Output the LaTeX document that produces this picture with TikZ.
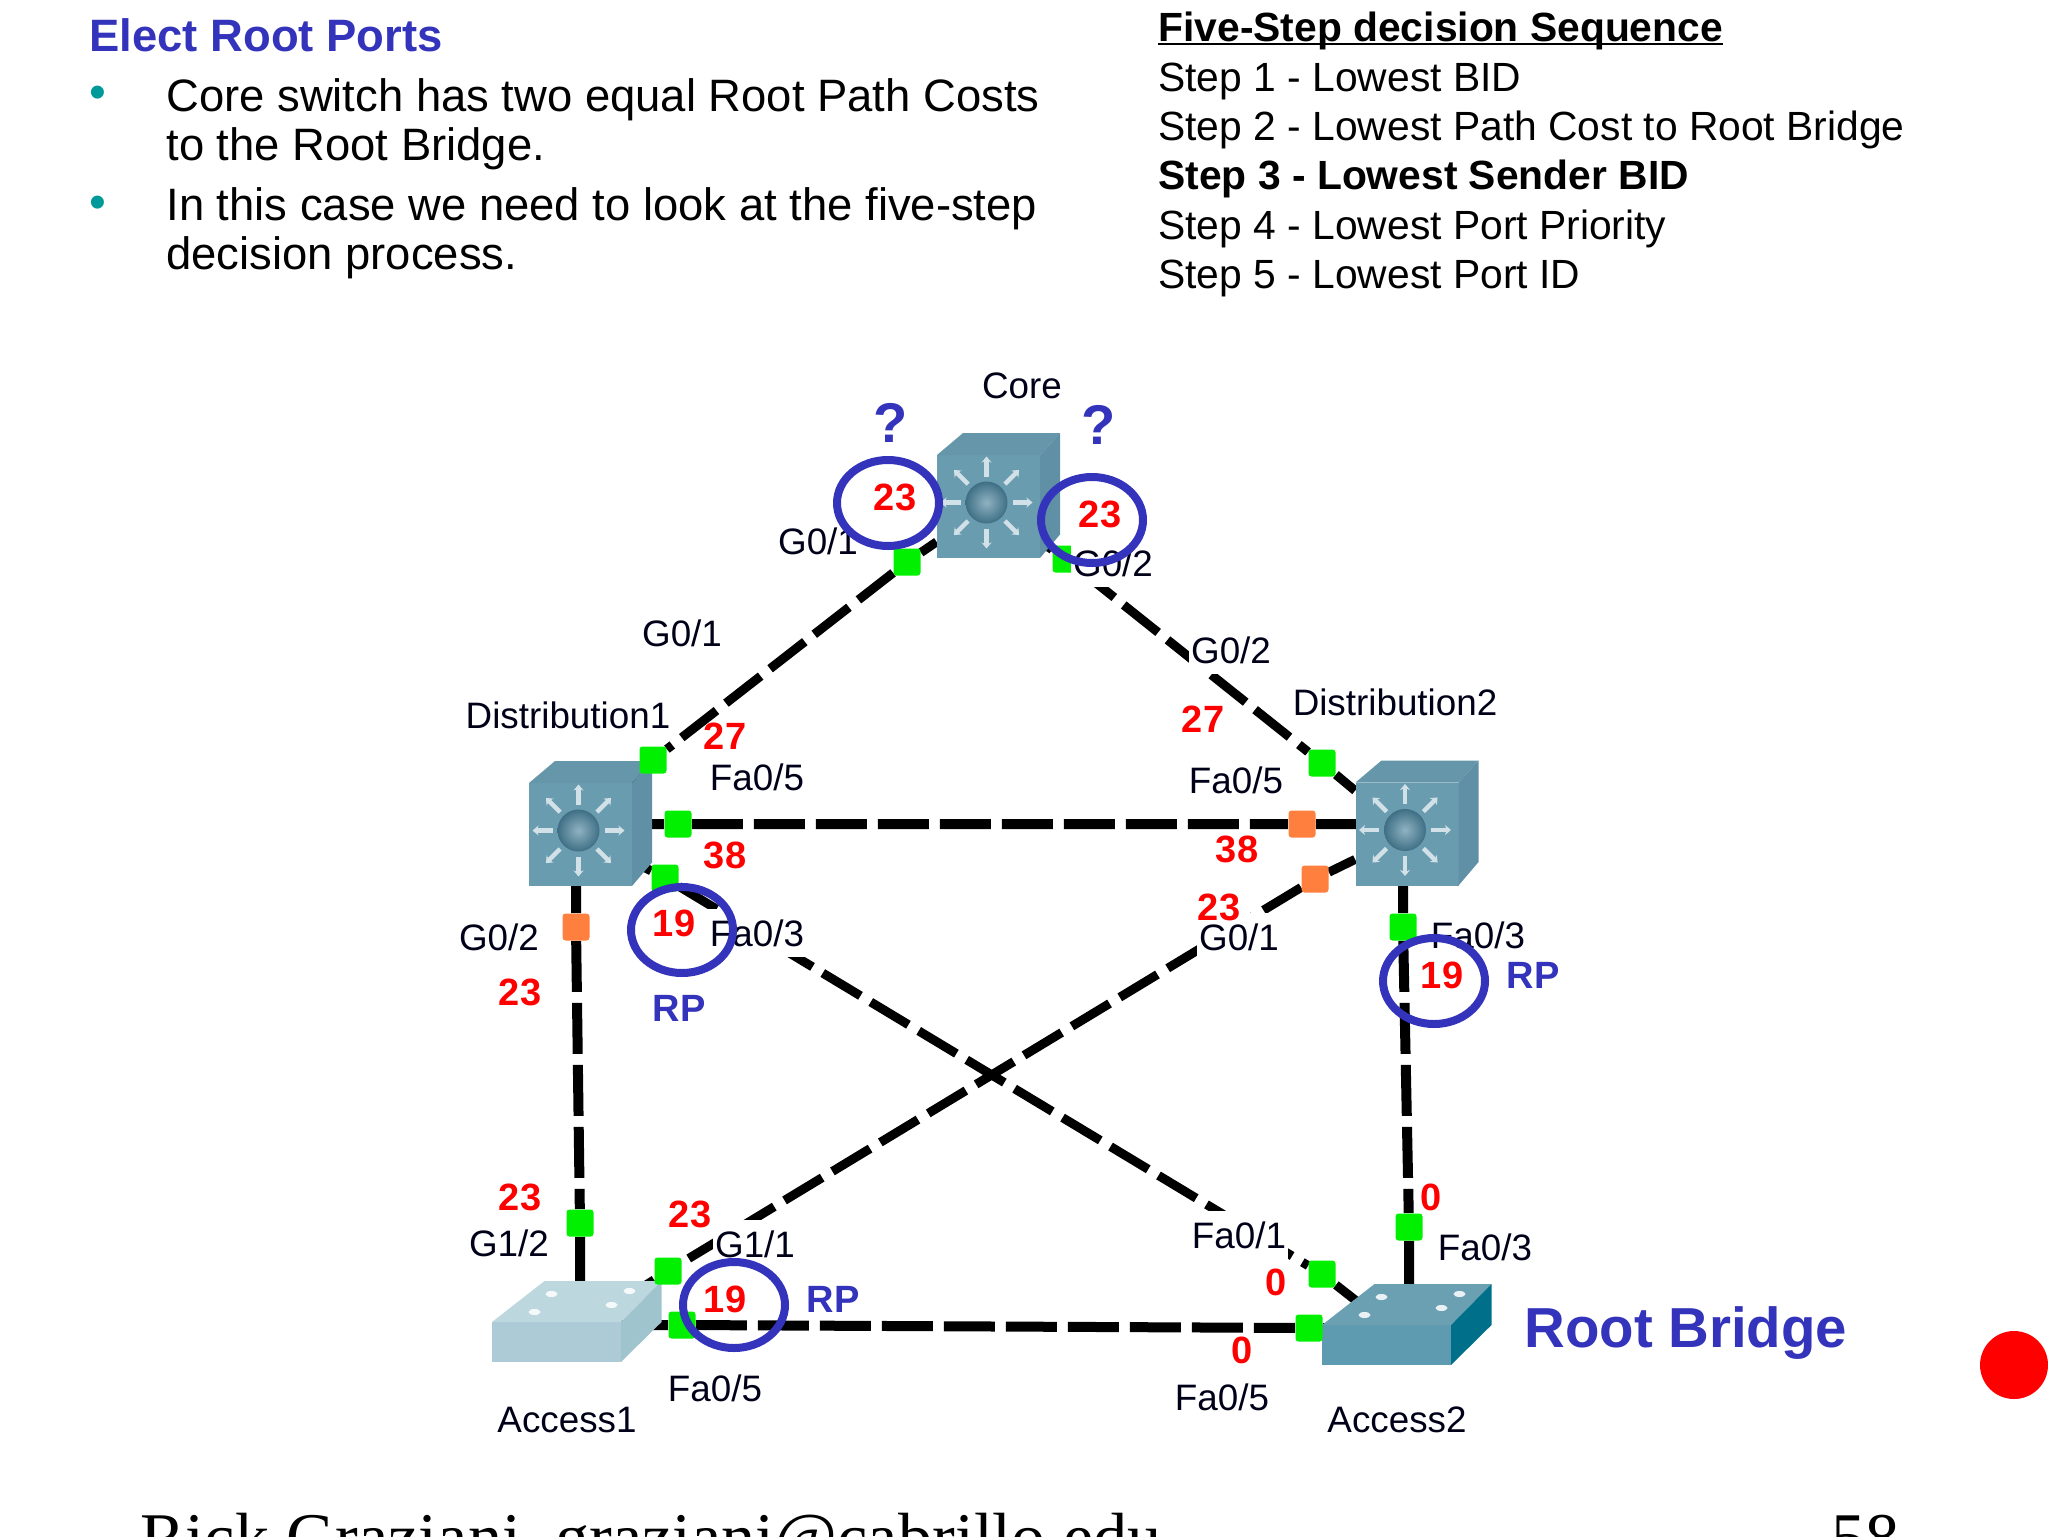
\documentclass[tikz,border=0pt]{standalone}
\usepackage{fontspec}
\setmainfont{Liberation Sans}
\newfontfamily\footfont{Liberation Serif}
\usetikzlibrary{shapes.geometric,backgrounds,arrows.meta}

\definecolor{slideblue}{HTML}{3333BB}
\definecolor{bullteal}{HTML}{009999}
\definecolor{portgreen}{HTML}{00F000}
\definecolor{portorange}{HTML}{FF7F3F}
\definecolor{mlsfront}{HTML}{6A9CB0}
\definecolor{mlstop}{HTML}{6696AA}
\definecolor{mlsside}{HTML}{5F90A5}
\definecolor{mlsball}{HTML}{3F6F85}
\definecolor{mlsglow}{HTML}{8FB3C2}
\definecolor{accfaded}{HTML}{ADCBD6}
\definecolor{accfadedtop}{HTML}{BDD7DF}
\definecolor{accfadedside}{HTML}{9FC4CE}
\definecolor{accroot}{HTML}{5F9BB0}
\definecolor{accroottop}{HTML}{6BA0B3}
\definecolor{accrootside}{HTML}{00708A}

\newcommand{\thickunder}[1]{\setbox0\hbox{#1}\rlap{\rule[-1.6pt]{\wd0}{1.2pt}}\box0}

\tikzset{
  link/.style = {line width=5pt, dash pattern=on 25.5pt off 5.5pt},
  diag/.style = {line width=4.5pt, dash pattern=on 22pt off 6pt},
  port/.style = {fill=portgreen, inner sep=0pt, minimum size=13.5pt, rounded corners=1.5pt},
  blocked/.style = {port, fill=portorange},
  tag/.style = {font=\fontsize{18.4}{20}\selectfont, text=black!90!blue, fill=white, inner sep=1pt, minimum height=24pt},
  cost/.style = {font=\fontsize{19}{20}\selectfont\bfseries, text=red, inner sep=0pt},
  rp/.style = {font=\fontsize{19}{20}\selectfont\bfseries, text=slideblue, inner sep=0pt},
  ring/.style = {ellipse, draw=slideblue, line width=4pt, inner sep=0pt, minimum width=51pt, minimum height=43pt},
  mlsface/.style = {fill=mlsfront, inner sep=0pt, minimum size=51.5pt},
  accface/.style = {inner sep=0pt, minimum width=64.5pt, minimum height=20pt},
  pics/mlsbody/.style = {code={
    \fill[mlstop] (-51.5,-51.5) -- (-25.5,-73.5) -- (71.5,-73.5) -- (51.5,-51.5) -- cycle;
    \fill[mlsside] (51.5,-51.5) -- (71.5,-73.5) -- (71.5,28) -- (51.5,51.5) -- cycle;
    \foreach \a in {0,45,...,315}
      \draw[line width=2.2pt, draw=white!70!mlsfront, {Stealth[length=3pt,width=5pt]}-] (-2,-4) ++(\a:46) -- ++(\a:-20);
    \shade[inner color=mlsglow, outer color=mlsball] (-2,-4) circle (21);
  }},
  pics/accbody/.style 2 args = {code={
    \fill[#1] (-64.5,-20) -- (-12,-61) -- (105,-61) -- (64.5,-20) -- cycle;
    \fill[#2] (64.5,-20) -- (105,-61) -- (105,-20) -- (64.5,20) -- cycle;
    \foreach \p in {(-5,-48),(73,-51),(-22,-30),(55,-37)}
      \fill[white!85!#1] \p ellipse (6 and 3);
  }}
}

\begin{document}
\begin{tikzpicture}[x=0.5pt, y=-0.5pt]
  \useasboundingbox (0,0) rectangle (2048,1536);

  % slide text
  \node[anchor=base west, inner sep=0pt, text=slideblue, font=\fontsize{22.7}{25}\selectfont\bfseries] (title) at (89,51.5) {Elect Root Ports};
  \node[text=bullteal, inner sep=0pt, font=\fontsize{24}{25}\selectfont] (bull1) at (98,97) {•};
  \node[text=bullteal, inner sep=0pt, font=\fontsize{24}{25}\selectfont] (bull2) at (98,207) {•};
  \node[anchor=north west, inner sep=0pt, align=left, font=\fontsize{22.7}{24.5}\selectfont] (para1) at (166,78.5) {Core switch has two equal Root Path Costs\\to the Root Bridge.};
  \node[anchor=north west, inner sep=0pt, align=left, font=\fontsize{22.7}{24.5}\selectfont] (para2) at (166,187.5) {In this case we need to look at the five-step\\decision process.};
  \node[anchor=north west, inner sep=0pt, align=left, font=\fontsize{20.4}{24.65}\selectfont] (steps) at (1158,12) {\thickunder{\textbf{Five-Step decision Sequence}}\\Step 1 - Lowest BID\\Step 2 - Lowest Path Cost to Root Bridge\\\textbf{Step 3 - Lowest Sender BID}\\Step 4 - Lowest Port Priority\\Step 5 - Lowest Port ID};

  % switches
  \node[mlsface] (core) at (988.5,506.5) {};
  \node[mlsface] (d1) at (580.5,834.5) {};
  \node[mlsface] (d2) at (1407,834) {};
  \node[accface, fill=accfaded] (a1) at (556.5,1342) {};
  \node[accface, fill=accroot] (a2) at (1386.5,1345) {};
  \pic at (core) {mlsbody};
  \pic at (d1) {mlsbody};
  \pic at (d2) {mlsbody};
  \pic at (a1) {accbody={accfadedtop}{accfadedside}};
  \pic at (a2) {accbody={accroottop}{accrootside}};

  % ports
  \node[port] (cG1) at (907,562) {};
  \node[port] (cG2) at (1066,559) {};
  \node[port] (d1G1) at (653,760) {};
  \node[port] (d1F5) at (678,824) {};
  \node[port] (d1F3) at (665,878) {};
  \node[blocked] (d1G2) at (576,927) {};
  \node[port] (d2G2) at (1322,763) {};
  \node[blocked] (d2F5) at (1302,824) {};
  \node[blocked] (d2G1) at (1315,879) {};
  \node[port] (d2F3) at (1403,927) {};
  \node[port] (a1G2) at (580,1223) {};
  \node[port] (a1G1) at (668,1271) {};
  \node[port] (a1F5) at (682,1325) {};
  \node[port] (a2F3) at (1409,1227) {};
  \node[port] (a2F1) at (1322,1274) {};
  \node[port] (a2F5) at (1309,1328) {};

  % links go behind everything
  \begin{scope}[on background layer]
    \draw[diag] (cG1)--(core)
                (cG1)--(d1G1)
                (d1G1)--(d1)
                (cG2)--(core)
                (cG2)--(d2G2)
                (d2G2)--(d2)
                (d1F3)--(d1)
                (d1F3)--(a2F1)
                (a2F1)--(a2.north)
                (d2G1)--(d2)
                (d2G1)--(a1G1)
                (a1G1)--(a1);
    \draw[link] (d1F5)--(d1F5 -| d1)
                (d1F5)--(d2F5)
                (d2F5)--(d2F5 -| d2)
                (d1G2)--(d1G2 |- d1)
                (d1G2)--(a1G2)
                (a1G2)--(a1G2 |- a1)
                (d2F3)--(d2F3 |- d2)
                (d2F3)--(a2F3)
                (a2F3)--(a2F3 |- a2)
                (a1F5)--(a1F5 -| a1)
                (a1F5)--(a2F5)
                (a2F5)--(a2F5 -| a2);
  \end{scope}

  % device and port names
  \node[tag] (coreName) at (1022,386) {Core};
  \node[tag] (d1Name) at (568,715) {Distribution1};
  \node[tag] (d2Name) at (1395,702) {Distribution2};
  \node[tag] (a1Name) at (567,1420) {Access1};
  \node[tag] (a2Name) at (1397,1420) {Access2};
  \node[tag] (tCG1) at (818,541) {G0/1};
  \node[tag] (tCG2) at (1113,563) {G0/2};
  \node[tag] (tD1G1) at (682,633) {G0/1};
  \node[tag] (tD2G2) at (1231,650) {G0/2};
  \node[tag] (tD1F5) at (757,777) {Fa0/5};
  \node[tag] (tD1F3) at (757,933) {Fa0/3};
  \node[tag] (tD1G2) at (499,937) {G0/2};
  \node[tag] (tD2F5) at (1236,780) {Fa0/5};
  \node[tag] (tD2G1) at (1239,937) {G0/1};
  \node[tag] (tD2F3) at (1478,935) {Fa0/3};
  \node[tag] (tA1G2) at (509,1243) {G1/2};
  \node[tag] (tA1G1) at (755,1244) {G1/1};
  \node[tag] (tA1F5) at (715,1388) {Fa0/5};
  \node[tag] (tA2F1) at (1239,1235) {Fa0/1};
  \node[tag] (tA2F3) at (1485,1247) {Fa0/3};
  \node[tag] (tA2F5) at (1222,1397) {Fa0/5};

  % path costs
  \node[cost] (costC1) at (895,497) {23};
  \node[cost] (costC2) at (1100,514) {23};
  \node[cost] (costD1a) at (725,736) {27};
  \node[cost] (costD2a) at (1203,719) {27};
  \node[cost] (costD1b) at (725,855) {38};
  \node[cost] (costD2b) at (1237,849) {38};
  \node[cost] (costD1c) at (674,923) {19};
  \node[cost] (costD2c) at (1442,975) {19};
  \node[cost] (costD1d) at (520,992) {23};
  \node[cost] (costD2d) at (1219,907) {23};
  \node[cost] (costA1a) at (520,1197) {23};
  \node[cost] (costA1b) at (690,1214) {23};
  \node[cost] (costA1c) at (725,1299) {19};
  \node[cost] (costA2a) at (1431,1197) {0};
  \node[cost] (costA2b) at (1276,1282) {0};
  \node[cost] (costA2c) at (1242,1350) {0};

  % root ports and question marks
  \node[rp] (rpD1) at (679,1008) {RP};
  \node[rp] (rpD2) at (1533,975) {RP};
  \node[rp] (rpA1) at (833,1299) {RP};
  \node[rp, font=\fontsize{28}{30}\selectfont\bfseries] (askC1) at (891,423) {?};
  \node[rp, font=\fontsize{28}{30}\selectfont\bfseries] (askC2) at (1099,425) {?};
  \node[rp, anchor=west, font=\fontsize{28.2}{30}\selectfont\bfseries] (rootName) at (1524,1333) {Root Bridge};

  \node[ring] (ringC1) at (888,503) {};
  \node[ring] (ringC2) at (1092,520) {};
  \node[ring] (ringD1) at (682,930) {};
  \node[ring] (ringD2) at (1434,981) {};
  \node[ring] (ringA1) at (734,1305) {};

  \node[circle, fill=red, inner sep=0pt, minimum size=34pt] (pointer) at (2014,1365) {};

  % footer runs off the slide
  \begin{scope}
    \clip (0,0) rectangle (2048,1536);
    \node[anchor=base west, inner sep=0pt, font=\footfont\fontsize{34.1}{36}\selectfont] (footer) at (140,1560) {Rick Graziani\ \ graziani@cabrillo.edu};
    \node[anchor=base west, inner sep=0pt, font=\footfont\fontsize{34.1}{36}\selectfont] (pageno) at (1831,1560) {58};
  \end{scope}
\end{tikzpicture}
\end{document}
